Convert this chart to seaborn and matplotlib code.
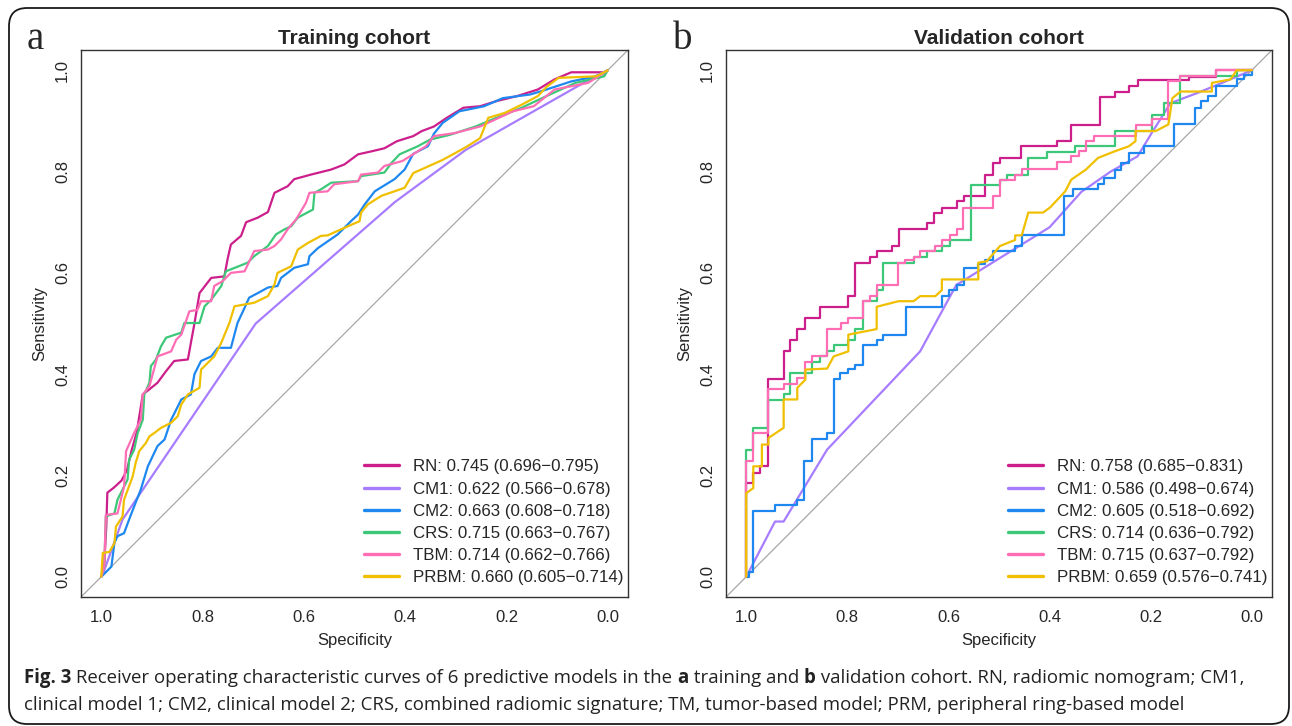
import matplotlib
matplotlib.use('Agg')
import matplotlib.pyplot as plt
import numpy as np
import pandas as pd
import seaborn as sns
from matplotlib.lines import Line2D
from matplotlib.patches import FancyBboxPatch


MODELS = ['RN', 'CM1', 'CM2', 'CRS', 'TBM', 'PRBM']
COLORS = ['#CC1F8C', '#A77CFF', '#1E88F0', '#3CC878', '#FF6EB4', '#F0C000']

AUC_TRAIN = ['0.745 (0.696\u22120.795)', '0.622 (0.566\u22120.678)', '0.663 (0.608\u22120.718)',
             '0.715 (0.663\u22120.767)', '0.714 (0.662\u22120.766)', '0.660 (0.605\u22120.714)']
AUC_VALID = ['0.758 (0.685\u22120.831)', '0.586 (0.498\u22120.674)', '0.605 (0.518\u22120.692)',
             '0.714 (0.636\u22120.792)', '0.715 (0.637\u22120.792)', '0.659 (0.576\u22120.741)']

# training cohort, (specificity, sensitivity)
RN_A = [(1.0, 0.0), (0.994, 0.026), (0.99, 0.10), (0.988, 0.166), (0.975, 0.176), (0.96, 0.19),
        (0.949, 0.211), (0.94, 0.25), (0.93, 0.285), (0.918, 0.36), (0.905, 0.37), (0.889, 0.383),
        (0.872, 0.406), (0.856, 0.426), (0.829, 0.429), (0.823, 0.462), (0.816, 0.50), (0.806, 0.56),
        (0.783, 0.59), (0.757, 0.593), (0.75, 0.63), (0.744, 0.656), (0.724, 0.673), (0.714, 0.70),
        (0.691, 0.709), (0.671, 0.72), (0.658, 0.758), (0.632, 0.771), (0.619, 0.785), (0.586, 0.794),
        (0.546, 0.804), (0.52, 0.814), (0.493, 0.834), (0.466, 0.84), (0.441, 0.846), (0.416, 0.86),
        (0.384, 0.87), (0.367, 0.88), (0.343, 0.889), (0.318, 0.906), (0.285, 0.926), (0.252, 0.929),
        (0.22, 0.939), (0.179, 0.949), (0.138, 0.962), (0.105, 0.982), (0.072, 0.996), (0.007, 0.996),
        (0.0, 1.0)]
CM1_A = [(1.0, 0.0), (0.994, 0.013), (0.958, 0.113), (0.695, 0.50), (0.42, 0.74), (0.28, 0.843),
         (0.025, 0.988), (0.0, 1.0)]
CM2_A = [(1.0, 0.0), (0.99, 0.01), (0.98, 0.02), (0.974, 0.067), (0.968, 0.08), (0.955, 0.086),
         (0.945, 0.113), (0.935, 0.139), (0.922, 0.172), (0.908, 0.218), (0.889, 0.258), (0.875, 0.271),
         (0.862, 0.31), (0.842, 0.35), (0.823, 0.36), (0.816, 0.40), (0.803, 0.426), (0.783, 0.435),
         (0.77, 0.452), (0.744, 0.452), (0.731, 0.501), (0.717, 0.531), (0.708, 0.551), (0.691, 0.56),
         (0.671, 0.571), (0.652, 0.574), (0.645, 0.59), (0.632, 0.60), (0.619, 0.61), (0.592, 0.617),
         (0.589, 0.633), (0.572, 0.649), (0.533, 0.676), (0.507, 0.702), (0.493, 0.715), (0.48, 0.735),
         (0.46, 0.761), (0.421, 0.785), (0.401, 0.804), (0.384, 0.835), (0.355, 0.85), (0.343, 0.875),
         (0.326, 0.896), (0.293, 0.919), (0.244, 0.929), (0.207, 0.945), (0.154, 0.952), (0.13, 0.959),
         (0.072, 0.978), (0.023, 0.988), (0.0, 1.0)]
CRS_A = [(1.0, 0.0), (0.994, 0.02), (0.991, 0.119), (0.974, 0.125), (0.968, 0.152), (0.955, 0.178),
         (0.948, 0.192), (0.945, 0.231), (0.935, 0.251), (0.928, 0.284), (0.918, 0.31), (0.915, 0.36),
         (0.905, 0.383), (0.902, 0.416), (0.892, 0.429), (0.882, 0.455), (0.872, 0.472), (0.842, 0.482),
         (0.836, 0.501), (0.806, 0.501), (0.796, 0.534), (0.783, 0.547), (0.763, 0.574), (0.754, 0.603),
         (0.711, 0.62), (0.698, 0.633), (0.671, 0.653), (0.655, 0.676), (0.638, 0.686), (0.625, 0.692),
         (0.612, 0.709), (0.582, 0.725), (0.579, 0.758), (0.566, 0.765), (0.546, 0.778), (0.493, 0.781),
         (0.487, 0.791), (0.441, 0.798), (0.427, 0.817), (0.411, 0.834), (0.375, 0.85), (0.351, 0.863),
         (0.31, 0.873), (0.261, 0.889), (0.22, 0.906), (0.17, 0.926), (0.121, 0.949), (0.064, 0.975),
         (0.007, 0.988), (0.0, 1.0)]
TBM_A = [(1.0, 0.0), (0.994, 0.02), (0.991, 0.122), (0.968, 0.125), (0.955, 0.178), (0.951, 0.248),
         (0.935, 0.284), (0.922, 0.31), (0.918, 0.36), (0.905, 0.376), (0.889, 0.435), (0.862, 0.445),
         (0.852, 0.468), (0.842, 0.478), (0.826, 0.524), (0.81, 0.527), (0.803, 0.544), (0.783, 0.544),
         (0.777, 0.574), (0.76, 0.584), (0.744, 0.60), (0.717, 0.603), (0.698, 0.643), (0.671, 0.646),
         (0.658, 0.653), (0.645, 0.666), (0.632, 0.686), (0.615, 0.706), (0.596, 0.738), (0.589, 0.758),
         (0.553, 0.761), (0.54, 0.775), (0.493, 0.781), (0.487, 0.794), (0.454, 0.798), (0.441, 0.811),
         (0.405, 0.821), (0.375, 0.84), (0.359, 0.85), (0.343, 0.87), (0.302, 0.876), (0.252, 0.889),
         (0.187, 0.919), (0.146, 0.929), (0.105, 0.962), (0.039, 0.975), (0.0, 1.0)]
PRBM_A = [(1.0, 0.0), (0.997, 0.047), (0.984, 0.049), (0.974, 0.066), (0.971, 0.099), (0.958, 0.119),
          (0.955, 0.152), (0.938, 0.198), (0.932, 0.225), (0.925, 0.248), (0.912, 0.264), (0.905, 0.277),
          (0.895, 0.284), (0.882, 0.294), (0.862, 0.304), (0.849, 0.317), (0.842, 0.34), (0.829, 0.36),
          (0.806, 0.373), (0.803, 0.409), (0.777, 0.435), (0.763, 0.462), (0.747, 0.501), (0.737, 0.534),
          (0.698, 0.541), (0.671, 0.554), (0.658, 0.577), (0.652, 0.60), (0.625, 0.613), (0.612, 0.646),
          (0.592, 0.659), (0.566, 0.673), (0.553, 0.674), (0.513, 0.692), (0.49, 0.702), (0.487, 0.719),
          (0.474, 0.735), (0.447, 0.752), (0.401, 0.768), (0.384, 0.797), (0.326, 0.823), (0.302, 0.836),
          (0.277, 0.85), (0.252, 0.866), (0.236, 0.906), (0.203, 0.916), (0.17, 0.932), (0.138, 0.949),
          (0.121, 0.967), (0.097, 0.985), (0.023, 0.988), (0.0, 1.0)]

# validation cohort; step curves are listed as (spec where the step lands, new sensitivity)
RN_B = [(1.0, 0.0), (1.0, 0.185), (0.986, 0.205), (0.973, 0.218), (0.956, 0.391), (0.926, 0.445),
        (0.913, 0.467), (0.9, 0.489), (0.883, 0.511), (0.855, 0.533), (0.798, 0.555), (0.785, 0.62),
        (0.756, 0.632), (0.742, 0.643), (0.712, 0.653), (0.698, 0.686), (0.642, 0.698), (0.628, 0.719),
        (0.612, 0.729), (0.584, 0.741), (0.569, 0.752), (0.528, 0.794), (0.512, 0.816), (0.498, 0.827),
        (0.457, 0.85), (0.386, 0.86), (0.357, 0.891), (0.3, 0.947), (0.271, 0.957), (0.243, 0.968),
        (0.226, 0.98), (0.124, 0.987), (0.071, 1.0), (0.0, 1.0)]
CM1_B = [(1.0, 0.0), (0.943, 0.109), (0.926, 0.109), (0.84, 0.251), (0.709, 0.389), (0.656, 0.445),
         (0.584, 0.577), (0.578, 0.58), (0.40, 0.69), (0.337, 0.76), (0.279, 0.80), (0.226, 0.83),
         (0.198, 0.876), (0.161, 0.935), (0.108, 0.955), (0.059, 0.975), (0.0, 1.0)]
CM2_B = [(1.0, 0.0), (0.995, 0.01), (0.986, 0.129), (0.943, 0.141), (0.899, 0.152), (0.885, 0.228),
         (0.87, 0.272), (0.84, 0.284), (0.827, 0.391), (0.814, 0.403), (0.798, 0.41), (0.784, 0.418),
         (0.77, 0.457), (0.742, 0.467), (0.729, 0.478), (0.684, 0.533), (0.613, 0.554), (0.598, 0.566),
         (0.584, 0.577), (0.569, 0.61), (0.541, 0.617), (0.528, 0.626), (0.512, 0.643), (0.468, 0.653),
         (0.455, 0.674), (0.371, 0.751), (0.353, 0.766), (0.304, 0.776), (0.292, 0.787), (0.271, 0.804),
         (0.259, 0.817), (0.243, 0.837), (0.214, 0.85), (0.153, 0.893), (0.112, 0.926), (0.1, 0.939),
         (0.087, 0.949), (0.071, 0.968), (0.03, 0.982), (0.015, 0.99), (0.0, 1.0)]
CRS_B = [(1.0, 0.0), (1.0, 0.251), (0.986, 0.294), (0.956, 0.348), (0.926, 0.36), (0.913, 0.403),
         (0.87, 0.424), (0.855, 0.435), (0.84, 0.445), (0.827, 0.457), (0.798, 0.468), (0.785, 0.489),
         (0.77, 0.544), (0.742, 0.566), (0.729, 0.62), (0.669, 0.632), (0.642, 0.643), (0.613, 0.653),
         (0.597, 0.665), (0.556, 0.773), (0.498, 0.783), (0.484, 0.794), (0.442, 0.827), (0.406, 0.839),
         (0.349, 0.85), (0.271, 0.88), (0.198, 0.912), (0.173, 0.935), (0.141, 0.988), (0.03, 1.0),
         (0.0, 1.0)]
TBM_B = [(1.0, 0.0), (1.0, 0.228), (0.986, 0.284), (0.956, 0.371), (0.926, 0.381), (0.9, 0.393),
         (0.883, 0.424), (0.87, 0.435), (0.84, 0.489), (0.813, 0.501), (0.798, 0.511), (0.77, 0.544),
         (0.756, 0.554), (0.742, 0.577), (0.699, 0.62), (0.685, 0.626), (0.669, 0.632), (0.656, 0.643),
         (0.626, 0.653), (0.613, 0.665), (0.597, 0.674), (0.584, 0.686), (0.571, 0.729), (0.512, 0.752),
         (0.498, 0.783), (0.468, 0.794), (0.455, 0.806), (0.386, 0.818), (0.357, 0.83), (0.341, 0.84),
         (0.328, 0.86), (0.312, 0.87), (0.23, 0.891), (0.198, 0.903), (0.165, 0.978), (0.141, 0.988),
         (0.071, 1.0), (0.0, 1.0)]
# PRBM validation has sloped pieces, so its vertices are given as drawn
PRBM_B = [(1.0, 0.0), (1.0, 0.165), (0.986, 0.175), (0.986, 0.218), (0.969, 0.218), (0.969, 0.261),
          (0.956, 0.261), (0.956, 0.274), (0.926, 0.294), (0.926, 0.35), (0.899, 0.35), (0.899, 0.373),
          (0.883, 0.389), (0.883, 0.409), (0.84, 0.411), (0.827, 0.435), (0.798, 0.445), (0.798, 0.478),
          (0.742, 0.489), (0.742, 0.533), (0.699, 0.544), (0.669, 0.544), (0.656, 0.554), (0.626, 0.554),
          (0.613, 0.566), (0.613, 0.587), (0.541, 0.587), (0.541, 0.62), (0.524, 0.623), (0.498, 0.653),
          (0.468, 0.665), (0.468, 0.674), (0.455, 0.674), (0.442, 0.719), (0.413, 0.719), (0.399, 0.729),
          (0.369, 0.761), (0.357, 0.784), (0.328, 0.804), (0.304, 0.827), (0.271, 0.84), (0.243, 0.85),
          (0.23, 0.86), (0.23, 0.88), (0.19, 0.88), (0.165, 0.893), (0.157, 0.945), (0.141, 0.958),
          (0.079, 0.958), (0.079, 0.975), (0.042, 0.982), (0.03, 1.0), (0.0, 1.0)]


def stairs(points):
    # horizontal move first, then the rise
    out = [points[0]]
    for (s0, t0), (s1, t1) in zip(points[:-1], points[1:]):
        out.append((s1, t0))
        out.append((s1, t1))
    return out


def to_frame(curves):
    rows = []
    for name, pts in zip(MODELS, curves):
        for i, (s, t) in enumerate(pts):
            rows.append({'model': name, 'order': i, 'spec': s, 'sens': t})
    return pd.DataFrame(rows)


train_df = to_frame([RN_A, CM1_A, CM2_A, CRS_A, TBM_A, PRBM_A])
valid_df = to_frame([stairs(RN_B), CM1_B, stairs(CM2_B), stairs(CRS_B), stairs(TBM_B), PRBM_B])

sns.set_style('white')
plt.rcParams['font.family'] = ['Liberation Sans', 'DejaVu Sans']

W, H = 1292, 726
fig = plt.figure(figsize=(W / 100, H / 100), dpi=100)
fig.patch.set_facecolor('white')


def draw_panel(rect, df, title, aucs):
    ax = fig.add_axes(rect)
    ax.axline((1, 0), (0, 1), color='#A6A6A6', lw=0.9, zorder=1)
    sns.lineplot(data=df, x='spec', y='sens', hue='model', hue_order=MODELS, palette=COLORS,
                 sort=False, estimator=None, units='model', linewidth=1.6, legend=False, ax=ax, zorder=3)
    ax.set_xlim(1.04, -0.04)
    ax.set_ylim(-0.04, 1.04)
    ticks = [1.0, 0.8, 0.6, 0.4, 0.2, 0.0]
    ax.set_xticks(ticks)
    ax.set_yticks(ticks)
    ax.set_xticklabels([f'{t:.1f}' for t in ticks], fontsize=12)
    ax.set_yticklabels([f'{t:.1f}' for t in ticks], fontsize=12, rotation=90, va='center')
    ax.tick_params(axis='both', direction='out', length=5.5, width=0.8, color='#333333', pad=4)
    ax.tick_params(axis='y', pad=2.5)
    for sp in ax.spines.values():
        sp.set_visible(True)
        sp.set_color('#333333')
        sp.set_linewidth(1.0)
    ax.set_xlabel('Specificity', fontsize=12, va='center')
    ax.set_ylabel('Sensitivity', fontsize=12, va='center')
    ax.xaxis.set_label_coords(0.5, -43 / 547)
    ax.yaxis.set_label_coords(-41 / 547, 0.5)
    ax.set_title(title, fontsize=15, fontweight='bold', pad=4)
    handles = [Line2D([], [], color=c, lw=2.4) for c in COLORS]
    labels = [f'{m}: {a}' for m, a in zip(MODELS, aucs)]
    ax.legend(handles, labels, loc='lower right', bbox_to_anchor=(1 - 5 / 547, 12 / 547),
              frameon=False, fontsize=12.2, handlelength=2.07, handletextpad=0.77,
              labelspacing=0.42, borderpad=0, borderaxespad=0)
    return ax


draw_panel([81 / W, 1 - 597 / H, 547 / W, 547 / H], train_df, 'Training cohort', AUC_TRAIN)
draw_panel([726 / W, 1 - 597 / H, 546 / W, 547 / H], valid_df, 'Validation cohort', AUC_VALID)

fig.text(27 / W, 1 - 49 / H, 'a', family='Liberation Serif', fontsize=28, va='baseline')
fig.text(673 / W, 1 - 49 / H, 'b', family='Liberation Serif', fontsize=28, va='baseline')

# rounded frame round the whole figure
frame = FancyBboxPatch((9 / W, 2 / H), 1280 / W, 716 / H, boxstyle='round,pad=0,rounding_size=0.014',
                       transform=fig.transFigure, fill=False, ec='#1A1A1A', lw=1.3,
                       mutation_aspect=W / H)
fig.patches.append(frame)


def rich_line(x, y, parts):
    r = fig.canvas.get_renderer()
    for s, bold in parts:
        t = fig.text(x / W, 1 - y / H, s, family='Open Sans', fontsize=13.4, color='#222222',
                     fontweight='bold' if bold else 'normal', va='center')
        x += t.get_window_extent(renderer=r).width


rich_line(24, 678, [('Fig. 3', True),
                    (' Receiver operating characteristic curves of 6 predictive models in the ', False),
                    ('a', True), (' training and ', False), ('b', True),
                    (' validation cohort. RN, radiomic nomogram; CM1,', False)])
rich_line(24, 705, [('clinical model 1; CM2, clinical model 2; CRS, combined radiomic signature; TM, '
                     'tumor-based model; PRM, peripheral ring-based model', False)])

fig.savefig('out.png', dpi=100)
